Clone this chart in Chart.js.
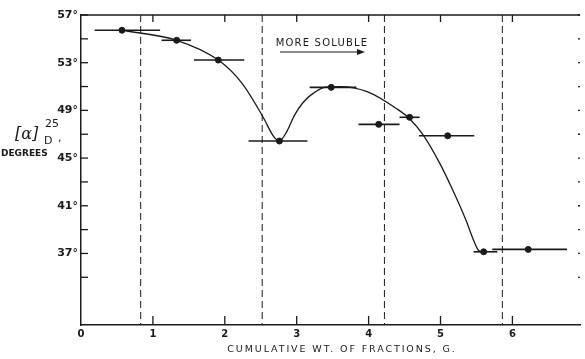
<!DOCTYPE html>
<html>
<head>
<meta charset="utf-8">
<script src="https://cdn.jsdelivr.net/npm/chart.js@4"></script>
<style>
  body { margin: 0; background: #fff; }
  #wrap { width: 585px; height: 359px; }
</style>
</head>
<body>
<div id="wrap"><canvas id="grafico"></canvas></div>
<script>
// fractions: mean cumulative weight (g) and rotation (degrees)
const fracX = [0.57, 1.33, 1.91, 2.76, 3.48, 4.14, 4.57, 5.10, 5.60, 6.22];
const fracY = [55.72, 54.88, 53.22, 46.43, 50.93, 47.83, 48.42, 46.87, 37.14, 37.34];
// width of each fraction (horizontal bars)
const barFrom = [0.19, 1.12, 1.57, 2.33, 3.18, 3.86, 4.43, 4.70, 5.46, 5.72];
const barTo = [1.10, 1.53, 2.27, 3.15, 3.83, 4.43, 4.71, 5.47, 5.79, 6.76];
// smooth curve drawn through the fractions
const curveX = [0.57, 1.33, 1.91, 2.24, 2.53, 2.68, 2.76, 2.86, 2.97, 3.08, 3.20, 3.40, 3.60, 3.98, 4.40, 4.57, 4.76, 4.99, 5.17, 5.36, 5.46, 5.53, 5.60];
const curveY = [55.72, 54.88, 53.22, 51.27, 48.47, 46.80, 46.45, 47.20, 48.60, 49.60, 50.30, 50.95, 51.00, 50.57, 49.10, 48.30, 46.93, 44.56, 42.32, 39.70, 38.10, 37.25, 37.12];
// dashed cuts
const cutX = [0.83, 2.52, 4.22, 5.86];
// ticks
const xTicks = [0, 1, 2, 3, 4, 5, 6];
const yMajor = [37, 41, 45, 49, 53, 57];
const yMinor = [35, 39, 43, 47, 51, 55];

const ink = '#1a1a1a';

const extras = {
  id: 'extras',
  beforeDatasetsDraw(chart) {
    const { ctx, chartArea: a, scales: { x, y } } = chart;
    ctx.save();
    ctx.strokeStyle = ink;
    // top border
    ctx.lineWidth = 1.5;
    ctx.beginPath();
    ctx.moveTo(a.left, a.top); ctx.lineTo(a.right, a.top);
    ctx.stroke();
    // inward ticks
    ctx.lineWidth = 1.3;
    xTicks.forEach(v => {
      if (v === 0) return;
      const px = x.getPixelForValue(v);
      ctx.beginPath();
      ctx.moveTo(px, a.bottom); ctx.lineTo(px, a.bottom - 9);
      ctx.moveTo(px, a.top); ctx.lineTo(px, a.top + 7);
      ctx.stroke();
    });
    yMajor.concat(yMinor).forEach(v => {
      const py = y.getPixelForValue(v);
      ctx.beginPath();
      ctx.moveTo(a.left, py); ctx.lineTo(a.left + 7, py);
      ctx.stroke();
      ctx.beginPath();
      ctx.moveTo(a.right - 2, py); ctx.lineTo(a.right, py);
      ctx.stroke();
    });
    // dashed cuts
    ctx.lineWidth = 1;
    ctx.setLineDash([7, 4]);
    cutX.forEach(v => {
      const px = x.getPixelForValue(v);
      ctx.beginPath();
      ctx.moveTo(px, a.top); ctx.lineTo(px, a.bottom);
      ctx.stroke();
    });
    ctx.setLineDash([]);
    // fraction bars
    ctx.lineWidth = 1.6;
    fracY.forEach((v, i) => {
      const py = y.getPixelForValue(v);
      ctx.beginPath();
      ctx.moveTo(x.getPixelForValue(barFrom[i]), py);
      ctx.lineTo(x.getPixelForValue(barTo[i]), py);
      ctx.stroke();
    });
    ctx.restore();
  },
  afterDraw(chart) {
    const { ctx } = chart;
    ctx.save();
    ctx.fillStyle = ink;
    ctx.strokeStyle = ink;
    // MORE SOLUBLE + arrow
    ctx.font = '10px "DejaVu Sans"';
    ctx.letterSpacing = '1.2px';
    ctx.textAlign = 'center';
    ctx.textBaseline = 'middle';
    ctx.fillText('MORE SOLUBLE', 322, 43);
    ctx.lineWidth = 1.2;
    ctx.beginPath();
    ctx.moveTo(280, 52); ctx.lineTo(362, 52);
    ctx.stroke();
    ctx.beginPath();
    ctx.moveTo(365, 52); ctx.lineTo(357, 49); ctx.lineTo(357, 55); ctx.closePath();
    ctx.fill();
    // x title
    ctx.font = '9.5px "DejaVu Sans"';
    ctx.letterSpacing = '1.9px';
    ctx.fillText('CUMULATIVE WT. OF FRACTIONS, G.', 342, 350);
    // y title
    ctx.letterSpacing = '0px';
    ctx.textAlign = 'left';
    ctx.font = 'italic 16px "DejaVu Serif"';
    ctx.fillText('[\u03b1]', 15, 135);
    ctx.font = '11px "DejaVu Sans"';
    ctx.fillText('25', 45, 124);
    ctx.fillText('D', 44, 141);
    ctx.fillText(',', 58, 138);
    ctx.font = 'bold 9px "DejaVu Sans"';
    ctx.fillText('DEGREES', 1, 154);
    ctx.restore();
  }
};

new Chart(document.getElementById('grafico'), {
  type: 'scatter',
  data: {
    datasets: [
      {
        data: curveX.map((v, i) => ({ x: v, y: curveY[i] })),
        showLine: true,
        borderColor: ink,
        borderWidth: 1.3,
        pointRadius: 0,
        cubicInterpolationMode: 'monotone'
      },
      {
        data: fracX.map((v, i) => ({ x: v, y: fracY[i] })),
        pointRadius: 3,
        pointBackgroundColor: ink,
        pointBorderColor: ink
      }
    ]
  },
  options: {
    responsive: true,
    maintainAspectRatio: false,
    animation: false,
    layout: { padding: { left: 0, right: 0, top: 15, bottom: 0 } },
    plugins: { legend: { display: false }, tooltip: { enabled: false } },
    scales: {
      x: {
        type: 'linear',
        min: 0,
        max: 6.94,
        grid: { display: false },
        border: { display: true, color: ink, width: 1.5 },
        afterBuildTicks: s => { s.ticks = xTicks.map(v => ({ value: v })); },
        afterFit: s => { s.height = 34; },
        ticks: {
          padding: -5,
          color: ink,
          font: { family: 'DejaVu Sans', size: 10, weight: 'bold' },
          callback: v => String(v)
        }
      },
      y: {
        min: 31,
        max: 57,
        grid: { display: false },
        border: { display: true, color: ink, width: 1.5 },
        afterBuildTicks: s => { s.ticks = yMajor.map(v => ({ value: v })); },
        afterFit: s => { s.width = 81; },
        ticks: {
          padding: -5,
          color: ink,
          font: { family: 'DejaVu Sans', size: 11, weight: 'bold' },
          callback: v => v + '\u00b0'
        }
      }
    }
  },
  plugins: [extras]
});
</script>
</body>
</html>
